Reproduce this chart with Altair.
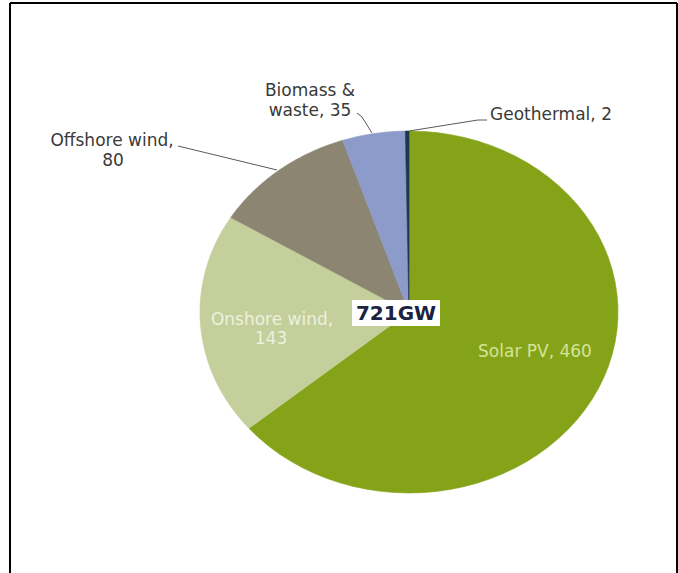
import altair as alt
import pandas as pd

# ---- data ----
categories = ["Solar PV", "Onshore wind", "Offshore wind", "Biomass & waste", "Geothermal"]
values = [460, 143, 80, 35, 2]
slice_colors = ["#85A318", "#C4CF9C", "#8B8572", "#8D9BCB", "#1F3550"]
total_label = "721GW"

# label text lines (built from the data) and their layout
label_lines = [
    f"{categories[0]}, {values[0]}",
    "Onshore wind,", f"{values[1]}",
    "Offshore wind,", f"{values[2]}",
    "Biomass &", f"waste, {values[3]}",
    f"{categories[4]}, {values[4]}",
]
label_x = [535, 272, 271, 112, 113, 310, 310, 490]
label_y = [352, 320, 339, 141, 161, 91, 111, 115]
label_align = ["center"] * 7 + ["left"]
label_color = ["#D5E39A", "#EEF1DD", "#EEF1DD", "#3A3A3A", "#3A3A3A", "#3A3A3A", "#3A3A3A", "#3A3A3A"]

# leader lines (pixel layout)
leader_id = ["off", "off", "bio", "bio", "bio", "geo", "geo", "geo"]
leader_ord = [0, 1, 0, 1, 2, 0, 1, 2]
leader_x = [178, 277, 357, 362, 372, 487, 478, 409]
leader_y = [146, 170, 113, 117, 133, 120, 120, 131]

FONT = "DejaVu Sans"

pie_df = pd.DataFrame({"category": categories, "value": values, "order": list(range(len(values)))})
color_scale = alt.Scale(domain=categories, range=slice_colors)

pie = (
    alt.Chart(pie_df)
    .transform_window(cum="sum(value)", sort=[alt.SortField("order")], frame=[None, 0])
    .transform_joinaggregate(total="sum(value)")
    .transform_calculate(
        a0="2*PI*(datum.cum - datum.value)/datum.total",
        a1="2*PI*datum.cum/datum.total",
        k="sequence(0, 63)",
    )
    .transform_flatten(["k"])
    .transform_calculate(
        ang="datum.a0 + (datum.a1 - datum.a0) * (clamp(datum.k, 1, 61) - 1) / 60",
    )
    .transform_calculate(
        px="(datum.k == 0 || datum.k == 62) ? 0 : sin(datum.ang)",
        py="(datum.k == 0 || datum.k == 62) ? 0 : cos(datum.ang)",
    )
    .mark_line(filled=True, strokeWidth=0.6, interpolate="linear")
    .encode(
        x=alt.X("px:Q", scale=alt.Scale(domain=[-1, 1], range=[200, 618]), axis=None),
        y=alt.Y("py:Q", scale=alt.Scale(domain=[-1, 1], range=[493, 131]), axis=None),
        order=alt.Order("k:Q"),
        color=alt.Color("category:N", scale=color_scale, legend=None),
        stroke=alt.Stroke("category:N", scale=color_scale, legend=None),
        detail="category:N",
    )
)

frame_df = pd.DataFrame({"x": [10, 10, 677], "x2": [10, 677, 677], "y": [3, 3, 3], "y2": [580, 3, 580]})
frame = alt.Chart(frame_df).mark_rule(color="black", strokeWidth=2).encode(
    x=alt.X("x:Q", scale=None, axis=None),
    x2="x2:Q",
    y=alt.Y("y:Q", scale=None, axis=None),
    y2="y2:Q",
)

leader_df = pd.DataFrame({"id": leader_id, "o": leader_ord, "x": leader_x, "y": leader_y})
leaders = alt.Chart(leader_df).mark_line(color="#5A5A5A", strokeWidth=1).encode(
    x=alt.X("x:Q", scale=None, axis=None),
    y=alt.Y("y:Q", scale=None, axis=None),
    detail="id:N",
    order="o:Q",
)

box = alt.Chart(pd.DataFrame({"t": [total_label]})).mark_rect(color="white").encode(
    x=alt.value(352), x2=alt.value(440), y=alt.value(300), y2=alt.value(326)
)
total_text = alt.Chart(pd.DataFrame({"t": [total_label]})).mark_text(
    font=FONT, fontSize=20, fontWeight="bold", color="#1B2340", align="center", baseline="middle"
).encode(x=alt.value(396), y=alt.value(314), text="t:N")

lab_df = pd.DataFrame({"t": label_lines, "x": label_x, "y": label_y, "a": label_align, "c": label_color})
labels_c = alt.Chart(lab_df).transform_filter("datum.a == 'center'").mark_text(
    font=FONT, fontSize=17, align="center", baseline="middle"
).encode(
    x=alt.X("x:Q", scale=None, axis=None),
    y=alt.Y("y:Q", scale=None, axis=None),
    text="t:N",
    color=alt.Color("c:N", scale=None),
)
labels_l = alt.Chart(lab_df).transform_filter("datum.a == 'left'").mark_text(
    font=FONT, fontSize=17, align="left", baseline="middle"
).encode(
    x=alt.X("x:Q", scale=None, axis=None),
    y=alt.Y("y:Q", scale=None, axis=None),
    text="t:N",
    color=alt.Color("c:N", scale=None),
)

chart = (
    alt.layer(frame, pie, leaders, box, total_text, labels_c, labels_l)
    .resolve_scale(x="independent", y="independent", color="independent", stroke="independent")
    .properties(width=678, height=573, padding=0, autosize="none", background="white")
    .configure_view(stroke=None)
)

chart.save("out.html", embed_options={"renderer": "svg", "actions": False})
